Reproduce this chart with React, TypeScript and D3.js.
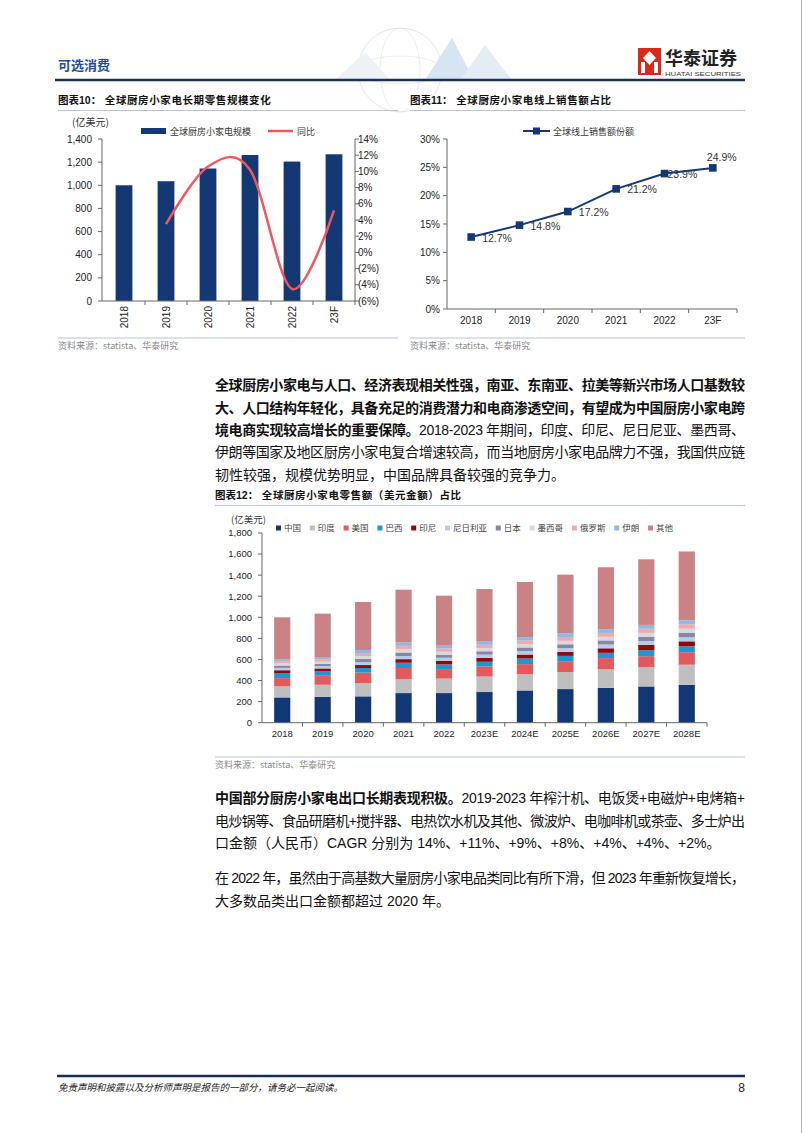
import React from 'react';
import * as d3 from 'd3';

// ---- data ----
const CATS10 = ['2018', '2019', '2020', '2021', '2022', '23F'];
const SALES10 = [1000, 1035, 1145, 1262, 1205, 1268];
const YOY10 = [null, 3.5, 10.6, 10.2, -4.5, 5.2];

const CATS11 = ['2018', '2019', '2020', '2021', '2022', '23F'];
const ONLINE11 = [12.7, 14.8, 17.2, 21.2, 23.9, 24.9];

const YEARS12 = ['2018', '2019', '2020', '2021', '2022', '2023E', '2024E', '2025E', '2026E', '2027E', '2028E'];
const CHINA = [240, 245, 250, 281, 281, 291, 306, 319, 331, 344, 359];
const INDIA = [105, 115, 125, 131, 138, 147, 153, 162, 175, 181, 191];
const USA = [78, 85, 100, 107, 90, 96, 97, 97, 107, 106, 119];
const BRAZIL = [48, 42, 44, 50, 44, 44, 53, 56, 50, 57, 56];
const INDONESIA = [27, 28, 28, 34, 35, 38, 38, 38, 43, 50, 47];
const NIGERIA = [22, 22, 28, 30, 28, 30, 32, 35, 36, 37, 39];
const JAPAN = [23, 22, 30, 33, 30, 32, 35, 37, 39, 41, 43];
const MEXICO = [20, 20, 28, 30, 27, 29, 31, 33, 34, 36, 38];
const RUSSIA = [20, 20, 28, 33, 30, 32, 34, 36, 37, 39, 41];
const IRAN = [17, 18, 29, 33, 28, 30, 33, 34, 36, 37, 39];
const OTHER = [400, 418, 455, 500, 474, 499, 523, 558, 587, 622, 653];
const SERIES12_NAMES = ['中国', '印度', '美国', '巴西', '印尼', '尼日利亚', '日本', '墨西哥', '俄罗斯', '伊朗', '其他'];
const SERIES12_VALUES = [CHINA, INDIA, USA, BRAZIL, INDONESIA, NIGERIA, JAPAN, MEXICO, RUSSIA, IRAN, OTHER];
const SERIES12_COLORS = ['#123775', '#BFBFBF', '#E05A5E', '#1E96D2', '#8E0A0E', '#B7CCE6', '#8488A6', '#D9D9D9', '#F2A9AB', '#8EB9E3', '#C98384'];

const NAVY = '#143874';
const SANS = '"Liberation Sans", Arial, "Noto Sans CJK SC", sans-serif';
const CJK = '"Noto Sans CJK SC", "Liberation Sans", sans-serif';
const fmt = d3.format(',');
const pctParen = (v: number) => (v < 0 ? `(${-v}%)` : `${v}%`);

function Chart10() {
  const x = d3.scaleBand().domain(CATS10).range([103, 355]).paddingInner(0.6).paddingOuter(0.3);
  const y = d3.scaleLinear().domain([0, 1400]).range([301, 139]);
  const y2 = d3.scaleLinear().domain([-6, 14]).range([301, 139]);
  const cx = (c: string) => (x(c) as number) + x.bandwidth() / 2;
  const pts = YOY10.map((v, i) => [cx(CATS10[i]), v]).filter(d => d[1] !== null) as [number, number][];
  const line = d3.line<[number, number]>().x(d => d[0]).y(d => y2(d[1])).curve(d3.curveCardinal);
  const step = x.step();
  return (
    <g>
      <text x={72} y={126} fontSize={10} fontFamily={CJK} fill="#333">(亿美元)</text>
      <rect x={141} y={128} width={25} height={6} fill={NAVY} />
      <text x={170} y={134.5} fontSize={9} fontFamily={CJK} fill="#333">全球厨房小家电规模</text>
      <line x1={268} x2={293} y1={131} y2={131} stroke="#F0585C" strokeWidth={2.5} />
      <text x={297} y={134.5} fontSize={9} fontFamily={CJK} fill="#333">同比</text>
      {SALES10.map((v, i) => (
        <rect key={i} x={x(CATS10[i])} y={y(v)} width={x.bandwidth()} height={301 - y(v)} fill={NAVY} />
      ))}
      <path d={line(pts) || ''} fill="none" stroke="#F0585C" strokeWidth={2.5} />
      {/* left axis */}
      <line x1={102} x2={102} y1={139} y2={301} stroke="#666" />
      {y.ticks(7).map(t => (
        <g key={t}>
          <line x1={98} x2={102} y1={y(t)} y2={y(t)} stroke="#666" />
          <text x={92} y={y(t) + 3.6} textAnchor="end" fontSize={10} fontFamily={SANS} fill="#222">{fmt(t)}</text>
        </g>
      ))}
      {/* right axis */}
      <line x1={355} x2={355} y1={139} y2={301} stroke="#666" />
      {d3.range(-6, 15, 2).map(t => (
        <g key={t}>
          <line x1={355} x2={359} y1={y2(t)} y2={y2(t)} stroke="#666" />
          <text x={358} y={y2(t) + 3.6} fontSize={10} fontFamily={SANS} fill="#222">{pctParen(t)}</text>
        </g>
      ))}
      {/* bottom axis */}
      <line x1={102} x2={355} y1={301} y2={301} stroke="#666" />
      {CATS10.map((c, i) => (
        <g key={c}>
          <line x1={103 + step * (i + 1)} x2={103 + step * (i + 1)} y1={301} y2={305} stroke="#666" />
          <text transform={`translate(${cx(c) + 3.5},306) rotate(-90)`} textAnchor="end" fontSize={10} fontFamily={SANS} fill="#222">{c}</text>
        </g>
      ))}
    </g>
  );
}

function Chart11() {
  const x = d3.scaleBand().domain(CATS11).range([447, 737]);
  const y = d3.scaleLinear().domain([0, 30]).range([309, 139]);
  const cx = (c: string) => (x(c) as number) + x.bandwidth() / 2;
  const line = d3.line<number>().x((_, i) => cx(CATS11[i])).y(d => y(d));
  const last = ONLINE11.length - 1;
  return (
    <g>
      <line x1={523} x2={550} y1={131} y2={131} stroke={NAVY} strokeWidth={2} />
      <rect x={533} y={127.5} width={7} height={7} fill={NAVY} />
      <text x={553} y={134.5} fontSize={9} fontFamily={CJK} fill="#333">全球线上销售额份额</text>
      <path d={line(ONLINE11) || ''} fill="none" stroke={NAVY} strokeWidth={2} />
      {ONLINE11.map((v, i) => {
        const px = cx(CATS11[i]);
        const py = y(v);
        const above = i === last;
        const lx = above ? px - 6 : px + (i === last - 1 ? 3 : 11);
        const ly = above ? py - 7 : py + 4.5;
        return (
          <g key={i}>
            <rect x={px - 3.8} y={py - 3.8} width={7.6} height={7.6} fill={NAVY} />
            <text x={lx} y={ly} fontSize={10.5} fontFamily={SANS} fill="#333">{v.toFixed(1)}%</text>
          </g>
        );
      })}
      <line x1={447} x2={447} y1={139} y2={309} stroke="#666" />
      {y.ticks(6).map(t => (
        <g key={t}>
          <line x1={443} x2={447} y1={y(t)} y2={y(t)} stroke="#666" />
          <text x={440} y={y(t) + 3.6} textAnchor="end" fontSize={10} fontFamily={SANS} fill="#222">{t}%</text>
        </g>
      ))}
      <line x1={447} x2={737} y1={309} y2={309} stroke="#666" />
      {CATS11.map((c, i) => (
        <g key={c}>
          <line x1={447 + x.step() * (i + 1)} x2={447 + x.step() * (i + 1)} y1={309} y2={313} stroke="#666" />
          <text x={cx(c)} y={324} textAnchor="middle" fontSize={10} fontFamily={SANS} fill="#222">{c}</text>
        </g>
      ))}
    </g>
  );
}

function Chart12() {
  const x = d3.scaleBand().domain(YEARS12).range([262, 707]).paddingInner(0.6).paddingOuter(0.3);
  const y = d3.scaleLinear().domain([0, 1800]).range([722.7, 533]);
  const rows = YEARS12.map((yr, i) => {
    const r: Record<string, number | string> = { year: yr };
    SERIES12_NAMES.forEach((n, k) => (r[n] = SERIES12_VALUES[k][i]));
    return r;
  });
  const stack = d3.stack<Record<string, number | string>>().keys(SERIES12_NAMES)(rows as any);
  // legend layout
  let lx = 276;
  const legend = SERIES12_NAMES.map((n, k) => {
    const item = { n, k, x: lx };
    lx += 5 + 3 + n.length * 8.5 + 8.8;
    return item;
  });
  return (
    <g>
      <text x={231} y={523} fontSize={9.5} fontFamily={CJK} fill="#333">(亿美元)</text>
      {legend.map(it => (
        <g key={it.n}>
          <rect x={it.x} y={525.5} width={5} height={5} fill={SERIES12_COLORS[it.k]} />
          <text x={it.x + 8} y={531} fontSize={8.5} fontFamily={CJK} fill="#444">{it.n}</text>
        </g>
      ))}
      {stack.map((layer, k) => (
        <g key={k} fill={SERIES12_COLORS[k]}>
          {layer.map((d, i) => (
            <rect key={i} x={x(YEARS12[i])} y={y(d[1])} width={x.bandwidth()} height={y(d[0]) - y(d[1])} />
          ))}
        </g>
      ))}
      <line x1={262} x2={262} y1={533} y2={722.7} stroke="#666" />
      {y.ticks(9).map(t => (
        <g key={t}>
          <line x1={258} x2={262} y1={y(t)} y2={y(t)} stroke="#666" />
          <text x={252} y={y(t) + 3.4} textAnchor="end" fontSize={9.5} fontFamily={SANS} fill="#222">{fmt(t)}</text>
        </g>
      ))}
      <line x1={262} x2={707} y1={722.7} y2={722.7} stroke="#666" />
      {YEARS12.map((c, i) => (
        <g key={c}>
          <line x1={262 + x.step() * (i + 1)} x2={262 + x.step() * (i + 1)} y1={722.7} y2={726.7} stroke="#666" />
          <text x={(x(c) as number) + x.bandwidth() / 2} y={737} textAnchor="middle" fontSize={9.5} fontFamily={SANS} fill="#222">{c}</text>
        </g>
      ))}
    </g>
  );
}

type Seg = { t: string; b?: boolean };
function Para({ y, segs, full }: { y: number; segs: Seg[]; full?: boolean }) {
  return (
    <text x={215} y={y} fontSize={14} fontFamily={SANS} fill="#111"
      {...(full ? { textLength: 530, lengthAdjust: 'spacing' } : {})}>
      {segs.map((s, i) => (
        <tspan key={i} fontWeight={s.b ? 'bold' : 'normal'}>{s.t}</tspan>
      ))}
    </text>
  );
}

function Title({ x, y, label, text, x2 }: { x: number; y: number; label: string; text: string; x2: number }) {
  return (
    <g>
      <text x={x} y={y} fontSize={10.5} fontWeight="bold" fontFamily={CJK} fill="#111">
        <tspan fontFamily={SANS}>{label}</tspan>
        <tspan letterSpacing={0.6}>：  {text}</tspan>
      </text>
      <line x1={x} x2={x2} y1={y + 6.5} y2={y + 6.5} stroke="#B9C3D3" strokeWidth={1.2} />
    </g>
  );
}

function Source({ x, y, x2 }: { x: number; y: number; x2: number }) {
  return (
    <g>
      <line x1={x} x2={x2} y1={y - 9} y2={y - 9} stroke="#B9C3D3" strokeWidth={1.2} />
      <text x={x} y={y + 2} fontSize={9} fontFamily={CJK} fill="#8a8a8a">资料来源：statista、华泰研究</text>
    </g>
  );
}

export default function App() {
  return (
    <svg width={802} height={1133} style={{ position: 'absolute', left: 0, top: 0, background: '#fff' }}>
      <rect width={802} height={1133} fill="#fff" />
      <line x1={801.5} x2={801.5} y1={0} y2={1133} stroke="#bbb" />
      {/* header watermark */}
      <g opacity={0.35}>
        <circle cx={400} cy={70} r={42} fill="none" stroke="#9aa7b8" strokeWidth={0.8} />
        <ellipse cx={400} cy={70} rx={20} ry={42} fill="none" stroke="#9aa7b8" strokeWidth={0.6} />
        <ellipse cx={400} cy={70} rx={42} ry={14} fill="none" stroke="#9aa7b8" strokeWidth={0.6} />
        <path d="M425,80 L452,38 L474,80 Z" fill="#8fb4de" />
        <path d="M460,80 L485,45 L512,80 Z" fill="#b5cde8" />
        <path d="M335,80 L365,52 L390,80 Z" fill="#cfdcea" />
      </g>
      <text x={58} y={70} fontSize={13} fontWeight="bold" fontFamily={CJK} fill="#1F4E96">可选消费</text>
      {/* logo */}
      <g>
        <rect x={638} y={48} width={23} height={27} fill="#D9291C" />
        <path d="M649.5,51 L656,58 L649.5,65 L643,58 Z" fill="#fff" />
        <rect x={641} y={62} width={4} height={11} fill="#fff" />
        <rect x={654} y={62} width={4} height={11} fill="#fff" />
        <text x={665} y={64.5} fontSize={18} fontWeight="bold" fontFamily={CJK} fill="#222">华泰证券</text>
        <text x={665} y={76} fontSize={6} fontFamily={SANS} fill="#333" textLength={76} lengthAdjust="spacingAndGlyphs">HUATAI SECURITIES</text>
      </g>
      <line x1={55} x2={745} y1={80} y2={80} stroke="#1C2D5A" strokeWidth={2.5} />

      <Title x={58} y={104} label="图表10" text="全球厨房小家电长期零售规模变化" x2={398} />
      <Title x={410} y={104} label="图表11" text="全球厨房小家电线上销售额占比" x2={745} />
      <Chart10 />
      <Chart11 />
      <Source x={58} y={347} x2={398} />
      <Source x={410} y={347} x2={745} />

      <Para y={390} full segs={[{ t: '全球厨房小家电与人口、经济表现相关性强，南亚、东南亚、拉美等新兴市场人口基数较', b: true }]} />
      <Para y={413} full segs={[{ t: '大、人口结构年轻化，具备充足的消费潜力和电商渗透空间，有望成为中国厨房小家电跨', b: true }]} />
      <Para y={435} full segs={[{ t: '境电商实现较高增长的重要保障。', b: true }, { t: '2018-2023 年期间，印度、印尼、尼日尼亚、墨西哥、' }]} />
      <Para y={457} full segs={[{ t: '伊朗等国家及地区厨房小家电复合增速较高，而当地厨房小家电品牌力不强，我国供应链' }]} />
      <Para y={480} segs={[{ t: '韧性较强，规模优势明显，中国品牌具备较强的竞争力。' }]} />

      <Title x={215} y={499} label="图表12" text="全球厨房小家电零售额（美元金额）占比" x2={745} />
      <Chart12 />
      <Source x={215} y={766} x2={745} />

      <Para y={803} full segs={[{ t: '中国部分厨房小家电出口长期表现积极。', b: true }, { t: '2019-2023 年榨汁机、电饭煲+电磁炉+电烤箱+' }]} />
      <Para y={826} full segs={[{ t: '电炒锅等、食品研磨机+搅拌器、电热饮水机及其他、微波炉、电咖啡机或茶壶、多士炉出' }]} />
      <Para y={848} segs={[{ t: '口金额（人民币）CAGR 分别为 14%、+11%、+9%、+8%、+4%、+4%、+2%。' }]} />
      <Para y={883} full segs={[{ t: '在 2022 年，虽然由于高基数大量厨房小家电品类同比有所下滑，但 2023 年重新恢复增长，' }]} />
      <Para y={906} segs={[{ t: '大多数品类出口金额都超过 2020 年。' }]} />

      <line x1={57} x2={745} y1={1076} y2={1076} stroke="#1C2D5A" strokeWidth={2.5} />
      <text x={58} y={1091} fontSize={9.5} fontStyle="italic" fontFamily={CJK} fill="#222">免责声明和披露以及分析师声明是报告的一部分，请务必一起阅读。</text>
      <text x={745} y={1092} textAnchor="end" fontSize={12} fontFamily={SANS} fill="#222">8</text>
    </svg>
  );
}
